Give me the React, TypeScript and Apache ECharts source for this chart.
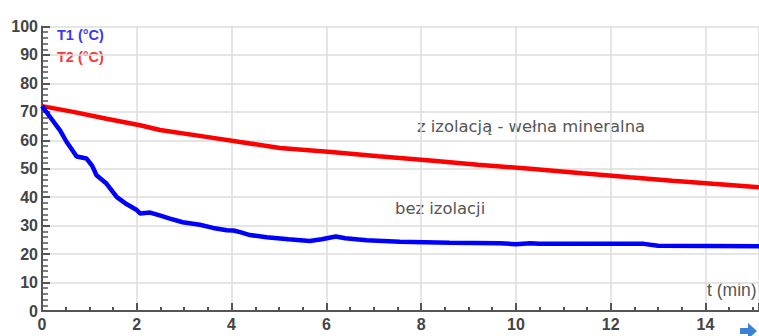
import React, { useEffect, useRef } from "react";
import * as echarts from "echarts";

const t1Times = [0, 0.17, 0.38, 0.52, 0.62, 0.73, 0.94, 1.06, 1.15, 1.36, 1.58, 1.79, 2.0, 2.07, 2.28, 2.5, 2.7, 2.97, 3.33, 3.61, 3.9, 4.04, 4.18, 4.39, 4.74, 5.2, 5.65, 5.9, 6.2, 6.4, 6.85, 7.55, 8.6, 9.66, 10.0, 10.3, 10.5, 12.7, 13.0, 15.13];
const t1Values = [72, 68.2, 63.5, 59.4, 57, 54.3, 53.6, 51, 47.7, 44.8, 40, 37.5, 35.5, 34.3, 34.6, 33.5, 32.5, 31.2, 30.3, 29.2, 28.4, 28.3, 27.7, 26.7, 25.9, 25.2, 24.6, 25.2, 26.2, 25.6, 24.9, 24.3, 24.0, 23.8, 23.5, 23.8, 23.6, 23.6, 22.9, 22.8];

const t2Times = [0, 0.66, 1.36, 2.07, 2.49, 3.47, 4.18, 5.02, 6.1, 7.1, 8.19, 9.2, 10.3, 11.4, 12.4, 13.3, 14.16, 15.13];
const t2Values = [72, 70, 67.6, 65.3, 63.6, 61.2, 59.4, 57.3, 55.9, 54.4, 52.9, 51.4, 50, 48.4, 47, 45.8, 44.7, 43.5];

const seriesNames = ["T1 (°C)", "T2 (°C)"];
const annotations = ["z izolacją - wełna mineralna", "bez izolacji"];
const xAxisTitle = "t (min)";

export default function App() {
  const ref = useRef<HTMLDivElement>(null);
  useEffect(() => {
    if (!ref.current) return;
    const chart = echarts.init(ref.current, undefined, { renderer: "svg" });
    const axisColor = "#555";
    const labelFont = {
      fontFamily: "Liberation Sans, Arial, sans-serif",
      fontWeight: "bold" as const,
      fontSize: 16,
      color: "#444",
    };
    chart.setOption({
      animation: false,
      backgroundColor: "#fff",
      grid: { left: 42, right: 0, top: 26.5, bottom: 25, containLabel: false },
      xAxis: {
        type: "value",
        min: 0,
        max: 15.13,
        interval: 2,
        axisLine: { show: true, onZero: false, lineStyle: { color: axisColor, width: 2 } },
        axisTick: { show: true, inside: true, length: 8, lineStyle: { color: axisColor, width: 2 } },
        minorTick: { show: true, splitNumber: 4, length: 4, lineStyle: { color: axisColor, width: 2 } },
        axisLabel: { ...labelFont, margin: 5, showMaxLabel: false, formatter: (v: number) => (Number.isInteger(v) ? String(v) : "") },
        splitLine: { show: true, lineStyle: { color: "#ddd", width: 1.5 } },
      },
      yAxis: {
        type: "value",
        min: 0,
        max: 100,
        interval: 10,
        axisLine: { show: true, onZero: false, lineStyle: { color: axisColor, width: 2 } },
        axisTick: { show: true, inside: true, length: 8, lineStyle: { color: axisColor, width: 2 } },
        minorTick: { show: true, splitNumber: 5, length: 6, lineStyle: { color: axisColor, width: 1.5 } },
        axisLabel: { ...labelFont, margin: 4 },
        splitLine: { show: true, lineStyle: { color: "#ddd", width: 1.5 } },
      },
      series: [
        {
          name: seriesNames[1],
          type: "line",
          data: t2Times.map((t, i) => [t, t2Values[i]]),
          showSymbol: false,
          lineStyle: { color: "#ff0000", width: 4.5 },
          z: 2,
        },
        {
          name: seriesNames[0],
          type: "line",
          data: t1Times.map((t, i) => [t, t1Values[i]]),
          showSymbol: false,
          lineStyle: { color: "#0000ff", width: 4.5 },
          z: 3,
        },
      ],
      graphic: [
        {
          type: "text",
          left: 57,
          top: 27,
          style: { text: seriesNames[0], fill: "#3a3af0", font: "bold 14.5px Liberation Sans, Arial, sans-serif" },
        },
        {
          type: "text",
          left: 57,
          top: 49,
          style: { text: seriesNames[1], fill: "#f03a3a", font: "bold 14.5px Liberation Sans, Arial, sans-serif" },
        },
        {
          type: "text",
          left: 707,
          top: 281,
          style: { text: xAxisTitle, fill: "#555", font: "17.5px Liberation Sans, Arial, sans-serif" },
        },
        {
          type: "text",
          left: 409,
          top: 115,
          style: {
            text: annotations[0],
            fill: "#555",
            font: "16.4px DejaVu Sans, sans-serif",
            backgroundColor: "#fff",
            padding: [3, 8],
          },
        },
        {
          type: "text",
          left: 387,
          top: 197,
          style: {
            text: annotations[1],
            fill: "#555",
            font: "16.4px DejaVu Sans, sans-serif",
            backgroundColor: "#fff",
            padding: [3, 8],
          },
        },
        {
          type: "polygon",
          shape: {
            points: [
              [740, 328],
              [748, 328],
              [748, 323],
              [757, 331],
              [748, 339],
              [748, 334],
              [740, 334],
            ],
          },
          style: { fill: "#3b82d6" },
        },
      ],
    });
    return () => chart.dispose();
  }, []);
  return <div ref={ref} style={{ position: "absolute", left: 0, top: 0, width: 759, height: 336 }} />;
}
